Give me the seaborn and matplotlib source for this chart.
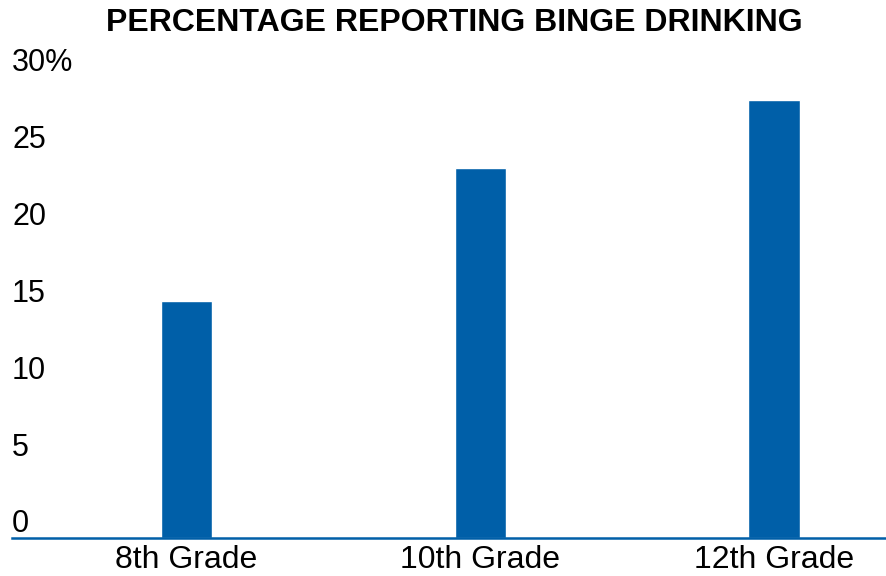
import matplotlib
matplotlib.use('Agg')
import matplotlib.pyplot as plt
import matplotlib.transforms as mtransforms
import seaborn as sns
import pandas as pd

grades = ['8th Grade', '10th Grade', '12th Grade']
binge_pct = [15.4, 24.1, 28.5]
y_ticks = [0, 5, 10, 15, 20, 25, 30]
y_tick_labels = ['0', '5', '10', '15', '20', '25', '30%']
title = 'PERCENTAGE REPORTING BINGE DRINKING'

blue = '#005FA8'

sns.set_style('white')
plt.rcParams['font.family'] = ['Liberation Sans', 'DejaVu Sans']

df = pd.DataFrame({'grade': grades, 'pct': binge_pct})

fig = plt.figure(figsize=(8.86, 5.76), dpi=100)
ax = fig.add_axes([12 / 886, 1 - 538 / 576, 874 / 886, (538 - 77) / 576])

sns.barplot(data=df, x='grade', y='pct', color=blue, saturation=1, width=0.175, ax=ax)

ax.set_xlim(-0.594, 2.381)
ax.set_ylim(0, 30)
ax.set_xlabel('')
ax.set_ylabel('')
ax.set_yticks([])
ax.tick_params(axis='x', labelsize=23, length=0, pad=5, colors='black')

for s in ['top', 'right', 'left']:
    ax.spines[s].set_visible(False)
ax.spines['bottom'].set_color(blue)
ax.spines['bottom'].set_linewidth(1.8)

# y labels sit just above their value, left aligned inside the axes
offset = mtransforms.ScaledTranslation(0, 4 / 72, fig.dpi_scale_trans)
trans = mtransforms.blended_transform_factory(ax.transAxes, ax.transData) + offset
for v, lab in zip(y_ticks, y_tick_labels):
    ax.text(0, v, lab, transform=trans, ha='left', va='baseline', fontsize=22, color='black', clip_on=False)

fig.text(454 / 886, 1 - 23 / 576, title, ha='center', va='center', fontsize=23, fontweight='bold', color='black')

fig.savefig('out.png', dpi=100)
